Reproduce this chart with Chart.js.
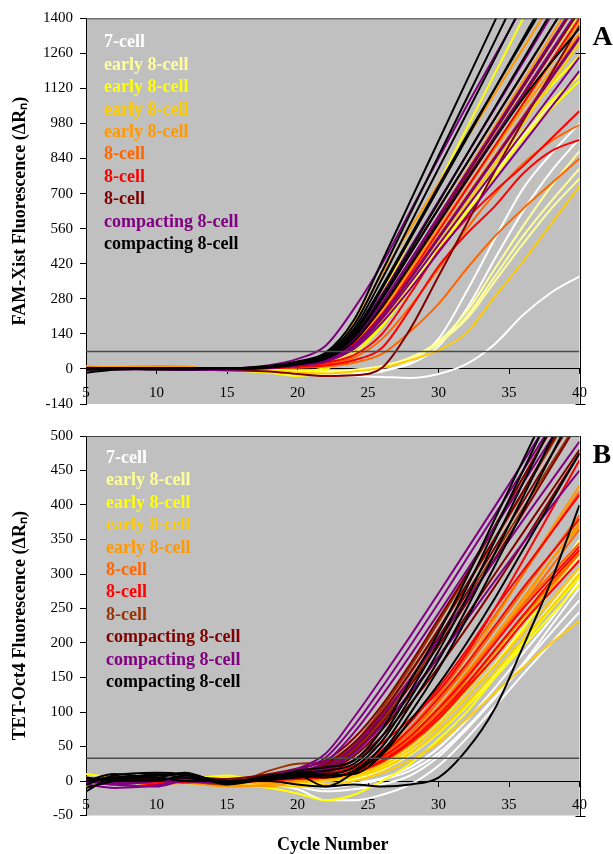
<!DOCTYPE html>
<html><head><meta charset="utf-8">
<script src="https://cdn.jsdelivr.net/npm/chart.js@4/dist/chart.umd.min.js"></script>
<style>
html,body{margin:0;padding:0;background:#fff;}
canvas{display:block;}
</style></head>
<body>
<canvas id="cA" width="613" height="420"></canvas>
<canvas id="cB" width="613" height="434"></canvas>
<script>
// ---------- shared ----------
const cycles = [5,7,10,12,15,18,20,22,24,26,28,30,32,34,36,38,40];
const xTicks = [5,10,15,20,25,30,35,40];
const xTitle = 'Cycle Number';

// ---------- panel A : FAM-Xist ----------
const A_title = 'FAM-Xist Fluorescence (ΔRₙ)';
const A_letter = 'A';
const A_yTicks = [-140,0,140,280,420,560,700,840,980,1120,1260,1400];
const A_threshold = 70;
const A_legendLabels = ['7-cell','early 8-cell','early 8-cell','early 8-cell','early 8-cell','8-cell','8-cell','8-cell','compacting 8-cell','compacting 8-cell'];
const A_legendColors = ['#FFFFFF','#FFFF99','#FFFF00','#FFCC00','#FF9900','#FF6600','#FF0000','#800000','#800080','#000000'];

const A_white = [
  [0,0,0,0,-3,-8,-15,-22,-28,-32,-36,-20,20,100,215,305,370],
  [0,0,0,0,-2,-5,-10,-15,-18,-10,30,120,310,520,720,860,980],
  [0,0,0,0,-2,-5,-10,-12,-12,-5,20,90,240,440,630,790,920]
];
const A_lightYellow = [
  [0,0,0,0,-3,-6,-10,-12,-5,10,45,110,230,400,570,730,870],
  [0,0,0,0,-2,-5,-8,-10,-5,8,40,100,210,370,530,670,800],
  [0,0,0,0,-2,-4,-8,-10,-3,12,45,105,200,350,500,640,760],
  [0,2,2,0,0,4,12,26,80,190,330,480,630,780,930,1060,1180]
];
const A_yellow = [
  [10,5,2,0,-5,-15,-28,-5,100,300,520,740,960,1180,1400,1620,1840],
  [0,2,0,2,0,5,15,32,95,215,370,530,690,850,1000,1130,1250],
  [0,0,0,0,-2,-5,-10,5,60,170,320,480,640,800,950,1070,1170],
  [2,0,0,2,0,4,12,25,75,180,320,470,620,770,920,1040,1150],
  [0,0,2,0,0,6,18,40,115,250,420,590,760,930,1100,1260,1420]
];
const A_gold = [
  [0,0,0,0,-3,-8,-15,-18,-10,5,35,75,145,290,430,580,730],
  [0,2,3,0,0,5,15,32,95,220,380,550,720,890,1060,1230,1400],
  [0,0,0,-2,-2,4,12,28,80,190,340,500,660,820,980,1140,1300]
];
const A_orange = [
  [10,8,12,10,-8,5,25,55,190,380,560,740,920,1100,1280,1460,1640],
  [0,5,5,8,-5,5,18,38,110,240,400,560,720,880,1040,1190,1340],
  [0,0,8,5,0,6,18,40,120,260,430,610,790,970,1150,1330,1510],
  [0,3,4,2,-3,6,16,36,105,235,395,560,725,890,1055,1220,1385]
];
const A_orangeRed = [
  [0,2,0,0,2,5,10,20,45,120,250,400,560,700,820,910,975],
  [0,0,0,2,0,3,5,10,25,60,150,260,400,530,640,740,840],
  [0,3,2,0,0,5,15,32,95,215,370,530,690,850,1010,1170,1330]
];
const A_red = [
  [0,0,0,2,0,5,12,25,55,140,300,470,600,710,810,920,1030],
  [0,2,2,0,0,3,8,15,35,85,240,410,540,650,780,870,915],
  [0,0,0,3,2,6,16,34,100,220,380,550,720,890,1060,1230,1400]
];
const A_darkRed = [
  [0,0,0,-2,-5,-10,-20,-28,-25,5,160,370,580,790,990,1180,1370],
  [0,2,2,0,0,8,20,45,130,280,460,640,820,1000,1180,1360,1540],
  [2,0,0,2,2,8,18,38,110,245,410,580,750,920,1090,1260,1430],
  [0,0,0,0,0,5,14,30,90,210,360,520,680,840,1000,1160,1320],
  [-2,0,2,0,0,6,18,40,115,255,425,600,775,950,1125,1300,1475]
];
const A_purple = [
  [5,3,0,-3,0,15,40,93,240,420,630,840,1050,1250,1450,1650,1850],
  [0,2,3,0,-2,8,22,50,140,300,485,670,855,1040,1225,1410,1595],
  [0,-2,2,3,0,6,18,40,115,255,420,590,760,930,1100,1270,1440],
  [-2,0,0,-4,-3,4,15,35,95,215,365,525,685,845,1005,1165,1325],
  [2,3,0,0,0,5,15,30,80,185,320,465,610,755,900,1045,1190],
  [0,0,-2,0,0,6,16,32,85,200,345,495,645,795,945,1095,1245],
  [0,3,2,-2,-2,8,20,42,120,265,435,610,785,960,1135,1310,1485]
];
const A_black = [
  [-15,-3,0,2,0,10,30,65,195,430,670,910,1150,1390,1630,1870,2110],
  [2,4,0,3,2,12,28,60,175,390,620,850,1080,1310,1540,1770,2000],
  [0,2,2,0,0,10,25,55,160,360,580,800,1020,1240,1460,1680,1900],
  [0,3,0,2,3,8,20,48,140,320,520,720,920,1120,1320,1520,1720],
  [-3,0,2,4,0,8,22,50,150,330,530,730,930,1120,1310,1500,1690],
  [2,0,0,-2,2,10,24,48,130,290,475,665,855,1045,1235,1425,1615],
  [0,2,-2,0,0,6,18,40,110,250,415,585,755,920,1080,1225,1360],
  [3,0,0,2,1,7,20,45,125,280,460,640,820,1000,1180,1360,1540]
];
const A_groups = [A_white,A_lightYellow,A_yellow,A_gold,A_orange,A_orangeRed,A_red,A_darkRed,A_purple,A_black];

// ---------- panel B : TET-Oct4 ----------
const B_title = 'TET-Oct4 Fluorescence (ΔRₙ)';
const B_letter = 'B';
const B_yTicks = [-50,0,50,100,150,200,250,300,350,400,450,500];
const B_threshold = 33;
const B_legendLabels = ['7-cell','early 8-cell','early 8-cell','early 8-cell','early 8-cell','8-cell','8-cell','8-cell','compacting 8-cell','compacting 8-cell','compacting 8-cell'];
const B_legendColors = ['#FFFFFF','#FFFF99','#FFFF00','#FFCC00','#FF9900','#FF6600','#FF0000','#993300','#800000','#800080','#000000'];

const B_white = [
  [0,2,0,-2,-3,-5,-12,-28,-28,-20,-5,22,62,108,155,200,245],
  [0,0,-2,0,0,-3,-8,-15,-12,-5,8,35,75,120,168,215,262],
  [2,0,0,0,-2,-3,-5,-10,-5,2,15,40,78,122,170,225,280],
  [0,0,0,-2,0,-2,-5,-8,-3,4,20,48,88,135,185,235,290]
];
const B_lightYellow = [
  [5,3,0,0,-2,-2,-5,-5,2,16,38,70,110,155,205,255,305],
  [0,2,0,-2,0,-2,0,2,8,24,50,86,130,180,235,290,350],
  [0,0,3,0,-2,-3,-2,0,6,20,45,80,122,170,222,275,325],
  [0,0,-2,0,2,-2,0,2,10,26,54,92,138,188,240,292,345]
];
const B_yellow = [
  [10,5,0,-3,-5,-10,-18,-28,-20,0,25,60,100,150,200,250,300],
  [-8,-3,0,2,8,-2,-3,0,5,18,40,72,112,158,205,250,295],
  [0,0,2,0,-2,0,-2,2,8,22,46,80,122,168,220,278,338],
  [0,2,-2,0,5,-2,0,2,6,18,40,70,108,150,195,240,285]
];
const B_gold = [
  [0,0,0,-2,-3,-2,0,2,8,22,46,80,122,168,215,262,310],
  [0,-2,0,0,0,-3,-2,0,6,18,40,72,112,158,205,252,300],
  [5,0,-2,0,-3,-5,-8,-5,0,12,30,55,90,128,165,200,232],
  [0,0,5,-2,0,-2,0,3,10,26,52,88,132,180,230,282,335]
];
const B_orange = [
  [0,0,-5,-3,-5,-8,0,4,12,30,60,100,150,205,260,320,375],
  [0,-2,0,0,-3,0,2,5,14,34,66,108,158,210,265,320,370],
  [0,0,-3,0,0,-2,0,3,10,26,52,88,132,180,230,280,330],
  [2,0,0,-2,-8,-5,2,4,12,28,56,92,138,186,236,285,335],
  [0,0,-2,0,0,0,3,6,16,36,70,115,170,235,300,365,428]
];
const B_orangeRed = [
  [0,0,2,0,0,2,5,10,20,42,78,125,180,240,300,360,420],
  [2,0,0,-2,0,2,4,8,18,38,70,115,165,220,275,330,385],
  [0,2,0,0,-2,1,3,6,15,32,62,100,148,200,255,310,365],
  [0,0,-2,0,0,2,4,8,16,34,65,105,155,205,255,300,345],
  [-2,0,0,2,0,1,3,6,14,30,60,98,142,190,240,285,330]
];
const B_red = [
  [0,2,0,0,-2,3,8,15,30,55,90,130,185,250,320,392,465],
  [0,-3,2,0,0,2,5,10,22,45,85,135,190,250,305,360,415],
  [2,0,0,-2,0,3,6,10,20,40,75,120,170,225,280,330,380],
  [0,0,-2,0,0,2,4,8,18,35,65,105,150,200,250,295,340],
  [0,2,0,0,-2,1,3,5,12,28,55,90,135,180,230,275,320],
  [-2,0,-5,2,0,2,4,6,14,30,58,95,140,190,240,290,335]
];
const B_brown = [
  [5,0,3,0,-5,15,25,28,55,105,165,230,298,368,440,512,585],
  [0,2,0,3,-3,5,12,24,52,98,156,218,283,350,418,486,555],
  [0,0,2,0,-2,4,10,20,45,88,142,202,265,330,395,460,525]
];
const B_darkRed = [
  [2,5,0,5,3,10,18,30,62,110,170,235,300,370,440,510,580],
  [0,3,5,0,0,8,14,25,55,100,158,220,285,352,420,490,560],
  [-2,0,3,2,-3,6,12,22,48,92,148,208,272,338,405,472,540],
  [0,2,0,3,0,5,10,18,42,84,138,196,258,322,388,455,522],
  [3,0,2,0,-2,5,9,15,36,75,125,180,240,300,360,420,480],
  [0,4,2,0,0,3,7,12,30,65,112,165,222,282,345,410,475]
];
const B_purple = [
  [0,-5,-8,0,-3,8,18,40,92,150,210,272,335,398,462,528,595],
  [-5,-10,-6,2,-2,6,15,34,80,136,196,258,322,386,450,515,580],
  [0,-3,2,0,0,5,12,28,70,124,182,243,305,368,432,496,560],
  [0,-5,0,3,-2,4,8,20,50,95,148,205,262,320,378,435,492],
  [-3,0,2,0,-2,3,6,16,40,80,128,180,234,290,345,398,450]
];
const B_black = [
  [-5,8,12,10,0,5,15,20,30,75,145,215,295,380,465,550,635],
  [0,5,8,10,-2,8,12,15,25,65,130,200,280,365,450,535,620],
  [-10,0,10,5,-2,6,10,10,20,58,120,188,265,348,432,515,600],
  [0,10,5,12,-5,4,8,5,15,50,110,175,250,330,412,495,580],
  [5,0,0,8,0,3,8,-8,12,42,98,162,235,312,392,472,552],
  [0,3,2,5,-2,2,5,8,10,38,88,140,200,265,335,405,475],
  [-15,5,5,0,0,0,-5,-8,-5,-8,-5,5,45,105,195,290,400]
];
const B_groups = [B_white,B_lightYellow,B_yellow,B_gold,B_orange,B_orangeRed,B_red,B_brown,B_darkRed,B_purple,B_black];

// ---------- builders ----------
const SERIF = '"Liberation Serif", "Times New Roman", serif';

function buildDatasets(groups, labels, colors, threshold) {
  const ds = [{
    label: 'threshold',
    data: [{x: xTicks[0], y: threshold}, {x: xTicks[xTicks.length - 1], y: threshold}],
    borderColor: '#4a4a4a', borderWidth: 1.5, pointRadius: 0
  }];
  for (let g = groups.length - 1; g >= 0; g--) {
    groups[g].forEach(curve => {
      ds.push({
        label: labels[g],
        data: cycles.map((c, i) => ({x: c, y: curve[i]})),
        borderColor: colors[g], borderWidth: 2, pointRadius: 0,
        cubicInterpolationMode: 'monotone', fill: false
      });
    });
  }
  return ds;
}

const framePlugin = {
  id: 'frame',
  beforeDraw(chart) {
    const {ctx, chartArea: a} = chart;
    ctx.save();
    ctx.fillStyle = '#C0C0C0';
    ctx.fillRect(a.left, a.top, a.right - a.left, a.bottom - a.top);
    ctx.restore();
  },
  afterDatasetsDraw(chart, args, o) {
    const {ctx, chartArea: a} = chart;
    ctx.save();
    ctx.lineWidth = 1;
    ctx.strokeStyle = '#444';
    ctx.beginPath();
    ctx.moveTo(a.left, a.top + 0.5); ctx.lineTo(a.right, a.top + 0.5);
    ctx.stroke();
    ctx.strokeStyle = '#000';
    ctx.beginPath();
    const rx = Math.round(a.right) + 0.5;
    ctx.moveTo(rx, a.top); ctx.lineTo(rx, a.bottom + 1);
    ctx.moveTo(rx - 5, Math.round(a.bottom) + 0.5); ctx.lineTo(rx + 5, Math.round(a.bottom) + 0.5);
    (o.rightTicks || []).forEach(v => {
      const py = Math.round(chart.scales.y.getPixelForValue(v)) + 0.5;
      ctx.moveTo(rx - 5, py); ctx.lineTo(rx + 5, py);
    });
    ctx.stroke();
    ctx.restore();
  },
  afterDraw(chart, args, o) {
    const {ctx, chartArea: a} = chart;
    ctx.save();
    ctx.font = 'bold 18px ' + SERIF;
    ctx.textBaseline = 'middle';
    ctx.textAlign = 'left';
    o.labels.forEach((t, i) => {
      ctx.fillStyle = o.colors[i];
      ctx.fillText(t, a.left + o.dx, a.top + o.dy + i * o.step);
    });
    ctx.fillStyle = '#000';
    ctx.font = 'bold 28px ' + SERIF;
    ctx.textBaseline = 'alphabetic';
    ctx.fillText(o.letter, a.right + 13, a.top + 26.5);
    if (o.xTitle) {
      ctx.font = 'bold 18px ' + SERIF;
      ctx.textAlign = 'center';
      ctx.textBaseline = 'middle';
      ctx.fillText(o.xTitle, (a.left + a.right) / 2, a.bottom + 30);
    }
    ctx.restore();
  }
};

function makeChart(id, groups, labels, colors, threshold, yTicks, title, letter, padding, frameOpts) {
  return new Chart(document.getElementById(id), {
    type: 'line',
    data: {datasets: buildDatasets(groups, labels, colors, threshold)},
    plugins: [framePlugin],
    options: {
      responsive: false, animation: false, devicePixelRatio: 1,
      layout: {padding: padding},
      plugins: {
        legend: {display: false}, tooltip: {enabled: false},
        frame: Object.assign({labels: labels, colors: colors, letter: letter}, frameOpts)
      },
      scales: {
        x: {
          type: 'linear', position: {y: 0}, min: xTicks[0], max: xTicks[xTicks.length - 1],
          afterBuildTicks: s => { s.ticks = xTicks.map(v => ({value: v})); },
          afterFit: s => { s.height = 0; },
          ticks: {autoSkip: false, maxRotation: 0, color: '#000', padding: 10,
                  font: {family: SERIF, size: 15}, callback: v => String(v)},
          grid: {drawOnChartArea: false, drawTicks: true, tickLength: 5, color: '#000'},
          border: {display: true, color: '#000', width: 1}
        },
        y: {
          type: 'linear', position: 'left', min: yTicks[0], max: yTicks[yTicks.length - 1],
          afterBuildTicks: s => { s.ticks = yTicks.map(v => ({value: v})); },
          afterFit: s => { s.width = 86; },
          ticks: {autoSkip: false, color: '#000', padding: 7,
                  font: {family: SERIF, size: 15}, callback: v => String(v)},
          grid: {drawOnChartArea: false, drawTicks: true, tickLength: 6, color: '#000'},
          border: {display: true, color: '#000', width: 1},
          title: {display: true, text: title, color: '#000', padding: {top: 10, bottom: 0},
                  font: {family: SERIF, size: 18, weight: 'bold'}}
        }
      }
    }
  });
}

makeChart('cA', A_groups, A_legendLabels, A_legendColors, A_threshold, A_yTicks, A_title, A_letter,
  {top: 18.3, right: 33.5, bottom: 14.3, left: 0},
  {dx: 18, dy: 24.4, step: 22.4, rightTicks: [1260]});
makeChart('cB', B_groups, B_legendLabels, B_legendColors, B_threshold, B_yTicks, B_title, B_letter,
  {top: 12.7, right: 33.5, bottom: 38.5, left: 0},
  {dx: 20, dy: 22.3, step: 22.4, xTitle: xTitle});
</script>
</body></html>
